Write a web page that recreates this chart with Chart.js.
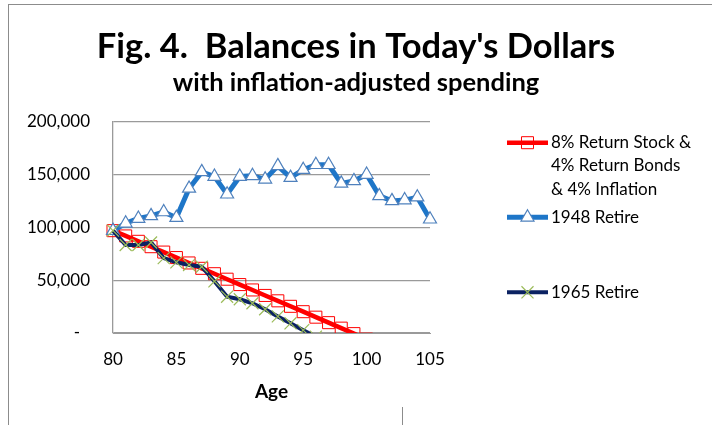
<!DOCTYPE html>
<html><head><meta charset="utf-8">
<script src="https://cdn.jsdelivr.net/npm/chart.js@4/dist/chart.umd.min.js"></script>
<style>
html,body{margin:0;padding:0;background:#fff;}
#wrap{position:relative;width:712px;height:425px;overflow:hidden;}
#frame{position:absolute;left:8px;top:4px;width:760px;height:460px;border-left:1px solid #8c8c8c;border-top:1px solid #8c8c8c;}
#tick{position:absolute;left:402px;top:407px;width:1px;height:18px;background:#8c8c8c;}
canvas{position:absolute;left:0;top:0;}
</style></head><body>
<div id="wrap"><div id="frame"></div><div id="tick"></div><canvas id="c" width="712" height="425"></canvas></div>
<script>
// ---- data ----
const ages = [80,81,82,83,84,85,86,87,88,89,90,91,92,93,94,95,96,97,98,99,100,101,102,103,104,105];
const planBalance = [97000,92000,86900,81800,76700,71500,66400,61300,56200,51000,45900,40800,35600,30500,25300,20200,15000,9800,4600,-600,-5800,-11000,-16300,-21600,-26900,-32200];
const retire1948 = [97000,104000,108500,111000,114700,109300,137000,152700,148300,131500,148300,149000,145700,158400,147300,154800,159500,159500,141800,144200,150200,130000,125200,126000,128700,107800];
const retire1965 = [97000,83400,83400,85800,71000,67000,64500,62800,49000,34400,32000,28200,22500,15700,9200,2700,-3500,-9000];
const seriesNames = [["8% Return Stock &","4% Return Bonds","& 4% Inflation"],["1948 Retire"],["1965 Retire"]];
const xTickValues = [80,85,90,95,100,105];
const yTickValues = [0,50000,100000,150000,200000];
const titleText = "Fig. 4.  Balances in Today's Dollars";
const subtitleText = "with inflation-adjusted spending";
const xAxisTitle = "Age";

const FONT = "Lato";
const toXY = arr => arr.map((v,i)=>({x:ages[i],y:v}));

const styles = [
  {line:'#FF0000', width:4.5, pointStyle:'rect', radius:8.5, pFill:'rgba(0,0,0,0)', pBorder:'#FF0000', pBW:1, order:2},
  {line:'#1E76C8', width:5, pointStyle:'triangle', radius:7.5, pFill:'#FFFFFF', pBorder:'#4F81BD', pBW:1.2, order:1},
  {line:'#0B2262', width:4, pointStyle:'crossRot', radius:8.5, pFill:'#9BBB59', pBorder:'#9BBB59', pBW:1.2, order:0}
];
const seriesData = [planBalance, retire1948, retire1965];

const datasets = seriesData.map((d,i)=>({
  label: seriesNames[i].join(' '),
  data: toXY(d),
  borderColor: styles[i].line,
  borderWidth: styles[i].width,
  backgroundColor: styles[i].line,
  pointStyle: styles[i].pointStyle,
  pointRadius: styles[i].radius,
  pointBackgroundColor: styles[i].pFill,
  pointBorderColor: styles[i].pBorder,
  pointBorderWidth: styles[i].pBW,
  tension: 0,
  order: styles[i].order,
  yAxisID: 'y',
  clip: {left: 20, top: 20, right: 20, bottom: 0}
}));

const legendPos = [{y:142.7, step:23.3},{y:217.3, step:23.3},{y:292.3, step:23.3}];
const customLegend = {
  id:'customLegend',
  afterDraw(chart){
    const ctx = chart.ctx;
    ctx.save();
    seriesNames.forEach((lines,i)=>{
      const s = styles[i], p = legendPos[i];
      ctx.strokeStyle = s.line; ctx.lineWidth = s.width; ctx.lineCap='butt';
      ctx.beginPath(); ctx.moveTo(507,p.y); ctx.lineTo(548,p.y); ctx.stroke();
      ctx.fillStyle = s.pFill; ctx.strokeStyle = s.pBorder; ctx.lineWidth = s.pBW;
      Chart.helpers.drawPoint(ctx,{pointStyle:s.pointStyle,radius:s.radius,rotation:0,borderWidth:s.pBW},527.5,p.y);
      ctx.fillStyle = '#000'; ctx.font = `17px ${FONT}`; ctx.textBaseline='middle'; ctx.textAlign='left';
      lines.forEach((t,k)=>ctx.fillText(t,551,p.y+k*p.step));
    });
    ctx.restore();
  }
};

new Chart(document.getElementById('c'),{
  type:'line',
  data:{datasets},
  plugins:[customLegend],
  options:{
    responsive:false, animation:false, devicePixelRatio:1,
    layout:{padding:0},
    plugins:{
      legend:{display:false}, tooltip:{enabled:false},
      title:{display:true,text:titleText,color:'#000',font:{family:FONT,size:34.5,weight:'bold'},padding:{top:26,bottom:0}},
      subtitle:{display:true,text:subtitleText,color:'#000',font:{family:FONT,size:25.5,weight:'bold'},padding:{top:0,bottom:24}}
    },
    scales:{
      x:{type:'linear',min:80,max:105,
        afterBuildTicks:sc=>{sc.ticks = xTickValues.map(v=>({value:v}));},
        afterFit:sc=>{sc.height=92;},
        grid:{display:false,drawTicks:false},
        border:{display:true,color:'#9a9a9a',width:1},
        ticks:{color:'#000',font:{family:FONT,size:17},padding:16,maxRotation:0},
        title:{display:true,text:xAxisTitle,color:'#000',font:{family:FONT,size:19,weight:'bold'},padding:{top:0,bottom:22}}
      },
      y:{min:0,max:200000,position:'left',
        afterBuildTicks:sc=>{sc.ticks = yTickValues.map(v=>({value:v}));},
        afterFit:sc=>{sc.width=113;},
        grid:{color:'#9a9a9a',lineWidth:1.3,drawTicks:false},
        border:{display:true,color:'#9a9a9a',width:1.3},
        ticks:{color:'#000',font:{family:FONT,size:17},padding:23,
          callback:v=> v===0 ? '-\u2007' : v.toLocaleString('en-US')}
      },
      legendSpace:{position:'right',min:0,max:1,
        afterFit:sc=>{sc.width=282;},
        grid:{display:false,drawTicks:false},
        border:{display:false},
        ticks:{display:false}
      }
    }
  }
});
</script>
</body></html>
